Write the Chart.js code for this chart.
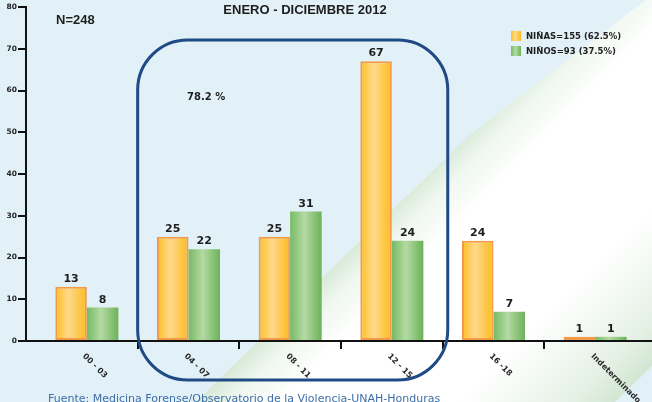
<!DOCTYPE html>
<html>
<head>
<meta charset="utf-8">
<script src="https://cdn.jsdelivr.net/npm/chart.js@4.4.0/dist/chart.umd.min.js"></script>
<style>
  html, body { margin: 0; padding: 0; background: #e2f1f8; }
  #wrap { width: 652px; height: 402px; }
</style>
</head>
<body>
<div id="wrap"><canvas id="chart" width="652" height="402"></canvas></div>
<script>
// data
const ageGroups = ['00 - 03', '04 - 07', '08 - 11', '12 - 15', '16 -18', 'Indeterminado'];
const ninas = [13, 25, 25, 67, 24, 1];
const ninos = [8, 22, 31, 24, 7, 1];
const seriesLabels = ['NIÑAS=155 (62.5%)', 'NIÑOS=93 (37.5%)'];
const yMax = 80, yStep = 10;

const titleText = 'ENERO - DICIEMBRE 2012';
const totalText = 'N=248';
const boxText = '78.2 %';
const sourceText = 'Fuente: Medicina Forense/Observatorio de la Violencia-UNAH-Honduras';

const gradStops = [
  [[0, '#fdbf1f'], [0.42, '#fed98d'], [1, '#fcbb1c']],
  [[0, '#76ba63'], [0.45, '#b4daa3'], [1, '#6bb259']]
];
const numFont = '"DejaVu Sans", Verdana, sans-serif';
const narrowFont = '"Liberation Sans Narrow", "Liberation Sans", Arial, sans-serif';

function hGrad(ctx, x0, x1, stops) {
  const g = ctx.createLinearGradient(x0, 0, x1, 0);
  stops.forEach(s => g.addColorStop(s[0], s[1]));
  return g;
}

// background with the diagonal white/green band
const backdrop = {
  id: 'backdrop',
  beforeDraw(chart) {
    const ctx = chart.ctx;
    ctx.save();
    ctx.fillStyle = '#e2f1f8';
    ctx.fillRect(0, 0, chart.width, chart.height);
    ctx.beginPath();
    ctx.moveTo(652, -5);
    ctx.lineTo(470, 135);
    ctx.lineTo(330, 270);
    ctx.lineTo(196, 402);
    ctx.lineTo(615, 402);
    ctx.lineTo(652, 366);
    ctx.closePath();
    const g = ctx.createLinearGradient(300, 300, 510, 510);
    g.addColorStop(0, '#d8ead8');
    g.addColorStop(0.08, '#f0f7f0');
    g.addColorStop(0.2, '#ffffff');
    g.addColorStop(0.62, '#ffffff');
    g.addColorStop(0.88, '#e6f1e6');
    g.addColorStop(1, '#d0e6d1');
    ctx.fillStyle = g;
    ctx.fill();
    ctx.restore();
  }
};

// category axis sits a little to the right of the value axis
const shiftX = {
  id: 'shiftX',
  afterLayout(chart) {
    const x = chart.scales.x;
    x.left = chart.chartArea.left + 10;
    x.right = chart.chartArea.right - 6;
    x.width = x.right - x.left;
    x.configure();
  }
};

const barFill = {
  id: 'barFill',
  beforeDatasetsDraw(chart) {
    const ctx = chart.ctx;
    chart.data.datasets.forEach((ds, i) => {
      chart.getDatasetMeta(i).data.forEach(bar => {
        const half = bar.width / 2;
        bar.options = Object.assign({}, bar.options, {
          backgroundColor: hGrad(ctx, bar.x - half, bar.x + half, gradStops[i])
        });
      });
    });
  },
  afterDatasetsDraw(chart) {
    const ctx = chart.ctx;
    ctx.save();
    ctx.font = 'bold 11px ' + numFont;
    ctx.fillStyle = '#1e1e1e';
    ctx.textAlign = 'center';
    ctx.textBaseline = 'alphabetic';
    chart.data.datasets.forEach((ds, i) => {
      chart.getDatasetMeta(i).data.forEach((bar, j) => {
        ctx.fillText(String(ds.data[j]), bar.x, bar.y - 5);
      });
    });
    ctx.restore();
  }
};

const decor = {
  id: 'decor',
  afterDraw(chart) {
    const ctx = chart.ctx;
    const x = chart.scales.x;
    ctx.save();

    // rotated category labels
    ctx.font = 'bold 8px ' + numFont;
    ctx.fillStyle = '#2a2a2a';
    ctx.textAlign = 'left';
    ctx.textBaseline = 'middle';
    ageGroups.forEach((lab, i) => {
      const px = x.getPixelForValue(i);
      ctx.save();
      ctx.translate(px - 3, 355);
      ctx.rotate(Math.PI / 4);
      ctx.fillText(lab, 0, 0);
      ctx.restore();
    });

    // rounded frame around 04-15
    const l = (x.getPixelForValue(0) + x.getPixelForValue(1)) / 2;
    const r = x.getPixelForValue(3) + x.width / ageGroups.length * 0.55;
    ctx.beginPath();
    ctx.roundRect(l, 40, r - l, 340, 50);
    ctx.lineWidth = 3;
    ctx.strokeStyle = '#1f4a86';
    ctx.stroke();

    ctx.fillStyle = '#1e1e1e';
    ctx.font = 'bold 10px ' + numFont;
    ctx.textBaseline = 'middle';
    ctx.fillText(boxText, 187, 97);

    // title and N
    ctx.font = 'bold 13px ' + narrowFont;
    ctx.textAlign = 'center';
    ctx.fillText(titleText, 305, 10);
    ctx.textAlign = 'left';
    ctx.fillText(totalText, 56, 20);

    // legend
    ctx.font = 'bold 8.5px ' + numFont;
    seriesLabels.forEach((lab, i) => {
      const y = 31 + i * 15;
      ctx.fillStyle = hGrad(ctx, 511, 521, gradStops[i]);
      ctx.fillRect(511, y, 10, 10);
      ctx.fillStyle = '#1e1e1e';
      ctx.fillText(lab, 526, y + 5.5);
    });

    // source
    ctx.font = '11px ' + numFont;
    ctx.fillStyle = '#3f6ea6';
    ctx.textBaseline = 'alphabetic';
    ctx.fillText(sourceText, 48, 402);
    ctx.restore();
  }
};

new Chart(document.getElementById('chart'), {
  type: 'bar',
  data: {
    labels: ageGroups,
    datasets: [
      { label: seriesLabels[0], data: ninas, backgroundColor: '#fdc840', borderColor: '#f39a4a', borderWidth: 2, borderSkipped: false },
      { label: seriesLabels[1], data: ninos, backgroundColor: '#8cc67a', borderWidth: 0 }
    ]
  },
  options: {
    responsive: false,
    animation: false,
    devicePixelRatio: 1,
    categoryPercentage: 0.62,
    barPercentage: 1,
    layout: { padding: { top: 7, right: 0, bottom: 0, left: 0 } },
    plugins: { legend: { display: false }, tooltip: { enabled: false }, title: { display: false } },
    scales: {
      x: {
        afterFit: s => { s.height = 61; },
        ticks: { display: false },
        border: { display: false },
        grid: {
          offset: true,
          drawOnChartArea: false,
          tickLength: 8,
          lineWidth: 2,
          color: c => (c.index === undefined || c.index === 0 || c.index >= ageGroups.length) ? 'rgba(0,0,0,0)' : '#111',
          tickColor: c => (c.index === undefined || c.index === 0 || c.index >= ageGroups.length) ? 'rgba(0,0,0,0)' : '#111'
        }
      },
      y: {
        min: 0, max: yMax,
        afterFit: s => { s.width = 26; },
        ticks: { stepSize: yStep, padding: 1, color: '#222', font: { family: numFont, size: 7.5, weight: 'bold' } },
        border: { display: true, color: '#111', width: 2 },
        grid: {
          tickLength: 8,
          lineWidth: 2,
          color: c => c.tick && c.tick.value === 0 ? '#111' : 'rgba(0,0,0,0)',
          tickColor: '#111'
        }
      }
    }
  },
  plugins: [backdrop, shiftX, barFill, decor]
});
</script>
</body>
</html>
